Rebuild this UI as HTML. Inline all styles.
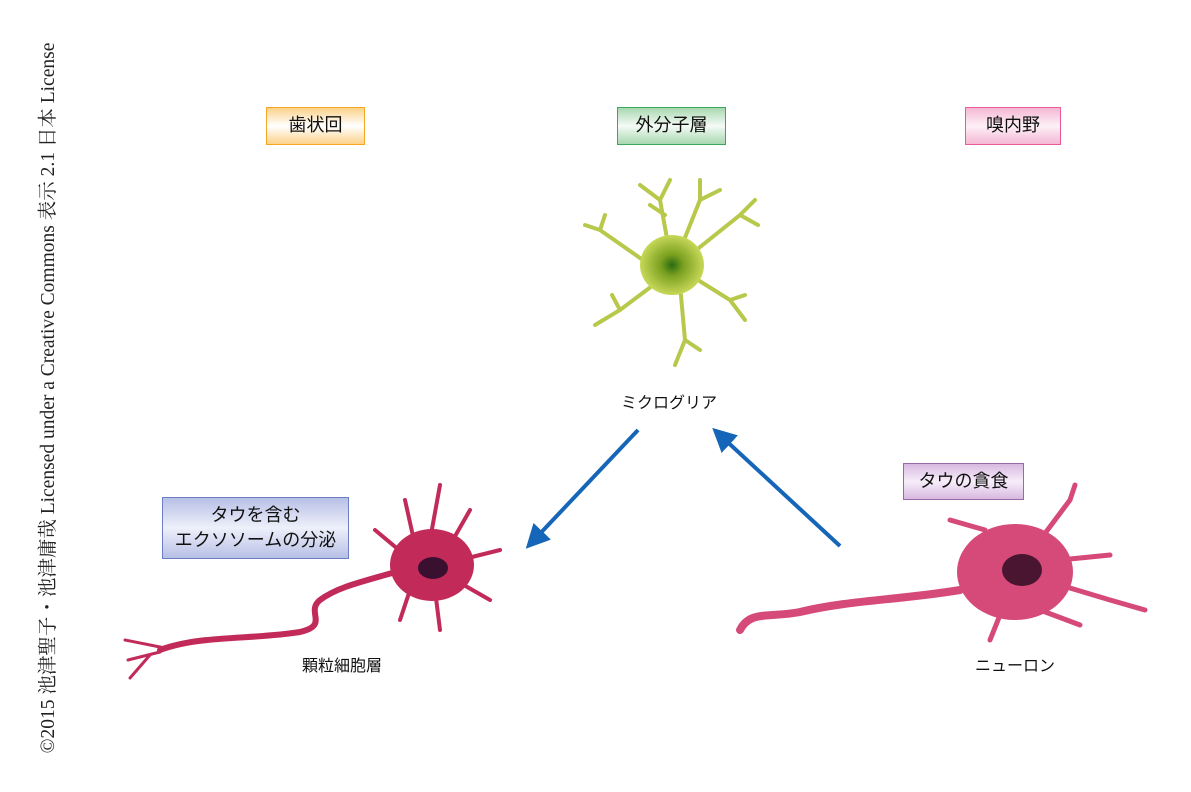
<!DOCTYPE html>
<html><head><meta charset="utf-8"><style>
body{margin:0;width:1191px;height:792px;background:#fff;position:relative;overflow:hidden;font-family:"Liberation Sans","Noto Sans CJK JP",sans-serif;}
.b{position:absolute;box-sizing:border-box;display:flex;align-items:center;justify-content:center;font-size:18px;color:#111;text-align:center;line-height:1.4}
.t{position:absolute;font-size:16px;color:#111;white-space:nowrap}
#side{position:absolute;left:46px;top:398px;transform:translate(-50%,-50%) rotate(-90deg);white-space:nowrap;font-family:"Liberation Serif","Noto Serif CJK SC",serif;font-size:19.5px;color:#222}
</style></head><body>
<div id="side">©2015 池津聖子・池津庸哉 Licensed under a Creative Commons 表示 2.1 日本 License</div>
<div class="b" style="left:266px;top:107px;width:99px;height:38px;border:1.5px solid #f5a623;background:linear-gradient(#fcd28a,#fff 50%,#fcd28a)">歯状回</div>
<div class="b" style="left:617px;top:107px;width:109px;height:38px;border:1.5px solid #3aa85a;background:linear-gradient(#a8d8b0,#f4fbf5 50%,#a8d8b0)">外分子層</div>
<div class="b" style="left:965px;top:107px;width:96px;height:38px;border:1.5px solid #e85a9a;background:linear-gradient(#f5b8d4,#fdf0f6 50%,#f5b8d4)">嗅内野</div>
<div class="b" style="left:162px;top:497px;width:187px;height:62px;border:1.5px solid #6c7fc4;background:linear-gradient(#b8bfe6,#eef0fa 50%,#b8bfe6)">タウを含む<br>エクソソームの分泌</div>
<div class="b" style="left:903px;top:463px;width:121px;height:37px;border:1.5px solid #9a6aa8;background:linear-gradient(#d8b8e0,#f7eefa 50%,#d8b8e0)">タウの貪食</div>
<div class="t" style="left:621px;top:389px">ミクログリア</div>
<div class="t" style="left:302px;top:652px">顆粒細胞層</div>
<div class="t" style="left:975px;top:652px">ニューロン</div>
<svg width="1191" height="792" style="position:absolute;left:0;top:0">
<defs><marker id="a" markerWidth="6" markerHeight="6" refX="3" refY="3" orient="auto"><path d="M0,0L6,3L0,6z" fill="#1565b8"/></marker>
<radialGradient id="g1"><stop offset="0" stop-color="#2a6a10"/><stop offset="0.35" stop-color="#7aa020"/><stop offset="1" stop-color="#c8d858"/></radialGradient></defs>
<line x1="638" y1="430" x2="534" y2="540" stroke="#1565b8" stroke-width="4" marker-end="url(#a)"/>
<line x1="840" y1="546" x2="721" y2="436" stroke="#1565b8" stroke-width="4" marker-end="url(#a)"/>
<g stroke="#b8c84a" stroke-width="4" fill="none" stroke-linecap="round">
<path d="M670 255L660 200L640 185M660 200L670 180M665 215L650 205"/>
<path d="M680 250L700 200L720 190M700 200L700 180"/>
<path d="M690 255L740 215L755 200M740 215L758 225"/>
<path d="M650 265L600 230L585 225M600 230L605 215"/>
<path d="M690 275L730 300L745 320M730 300L745 295"/>
<path d="M680 285L685 340L675 365M685 340L700 350"/>
<path d="M660 280L620 310L595 325M620 310L612 295"/>
</g>
<ellipse cx="672" cy="265" rx="32" ry="30" fill="url(#g1)"/>
<g stroke="#c22a5a" fill="none" stroke-linecap="round">
<path d="M420 565C370 580 340 585 320 600C305 612 330 625 300 632C250 640 200 635 160 650" stroke-width="6"/>
<path d="M165 648L125 640M160 652L128 660M150 655L130 678" stroke-width="3"/>
<g stroke-width="4"><path d="M415 545L405 500M430 540L440 485M450 545L470 510M460 560L500 550M455 580L490 600M435 590L440 630M410 590L400 620M405 555L375 530"/></g>
</g>
<ellipse cx="432" cy="565" rx="42" ry="36" fill="#c22a5a"/>
<ellipse cx="433" cy="568" rx="15" ry="11" fill="#3a1030"/>
<g stroke="#d54a78" fill="none" stroke-linecap="round">
<path d="M960 590C900 600 850 600 800 612C770 618 750 610 740 630" stroke-width="8"/>
<g stroke-width="5"><path d="M1040 540L1070 500L1075 485M1060 560L1110 555M1060 585L1110 600L1145 610M1040 610L1080 625M1000 615L990 640M985 530L950 520"/></g>
</g>
<ellipse cx="1015" cy="572" rx="58" ry="48" fill="#d54a78"/>
<ellipse cx="1022" cy="570" rx="20" ry="16" fill="#4a1530"/>
</svg>
</body></html>
